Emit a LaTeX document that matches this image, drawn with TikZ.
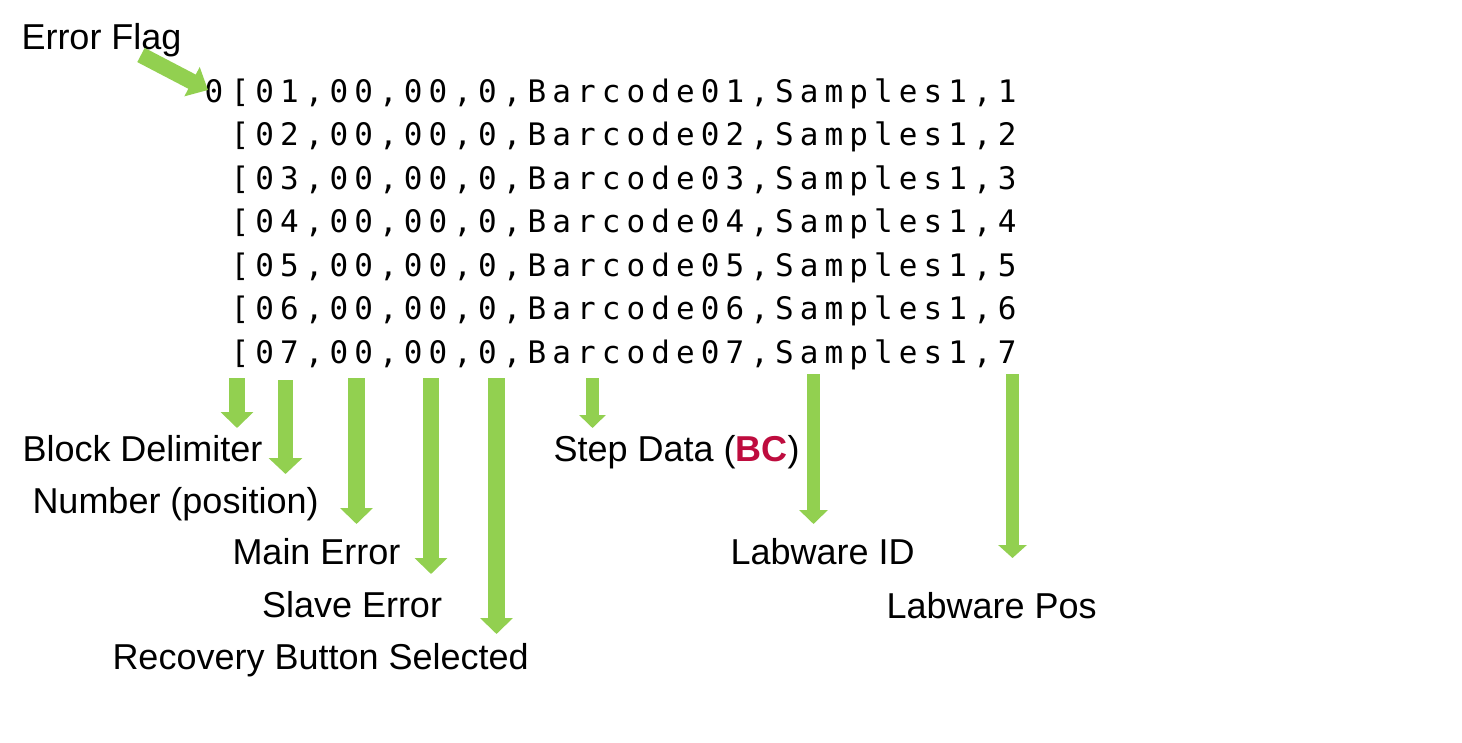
\documentclass[tikz,border=0pt]{standalone}
\usepackage{fontspec}
\setmainfont{Liberation Sans}
\newfontfamily\monofont{DejaVu Sans Mono}
\usetikzlibrary{arrows.meta}
\definecolor{arrowgreen}{RGB}{146,208,80}
\definecolor{bcred}{RGB}{190,12,62}
\makeatletter
\newcommand\mrow[1]{\@tfor\mchar:=#1\do{\makebox[24.75pt]{\mchar}}}
\makeatother
\tikzset{
  lbl/.style={inner sep=0pt, outer sep=0pt, anchor=base west, font=\fontsize{36}{36}\selectfont},
  mono/.style={inner sep=0pt, outer sep=0pt, anchor=base west, font=\monofont\fontsize{31}{31}\selectfont},
  blk/.style n args={3}{draw=arrowgreen, fill=arrowgreen, line cap=butt, line width=#1,
     -{Triangle[width=#2,length=#3]}}
}
\begin{document}
\begin{tikzpicture}[x=1pt,y=-1pt]
\fill[white] (0,0) rectangle (1462,742);
\useasboundingbox (0,0) rectangle (1462,742);

% code rows
\node[mono, anchor=base] (flag) at (214,102) {0};
\node[mono] (r1) at (227.6,102)   {\mrow{[01,00,00,0,Barcode01,Samples1,1}};
\node[mono] (r2) at (227.6,145.5) {\mrow{[02,00,00,0,Barcode02,Samples1,2}};
\node[mono] (r3) at (227.6,189)   {\mrow{[03,00,00,0,Barcode03,Samples1,3}};
\node[mono] (r4) at (227.6,232.5) {\mrow{[04,00,00,0,Barcode04,Samples1,4}};
\node[mono] (r5) at (227.6,276)   {\mrow{[05,00,00,0,Barcode05,Samples1,5}};
\node[mono] (r6) at (227.6,319.5) {\mrow{[06,00,00,0,Barcode06,Samples1,6}};
\node[mono] (r7) at (227.6,363)   {\mrow{[07,00,00,0,Barcode07,Samples1,7}};

% labels
\node[lbl] (lflag) at (21.5,49)  {Error Flag};
\node[lbl] (lblk)  at (22.5,461) {Block Delimiter};
\node[lbl] (lnum)  at (32.5,513) {Number (position)};
\node[lbl] (lmain) at (232.5,564) {Main Error};
\node[lbl] (lslv)  at (262,617)  {Slave Error};
\node[lbl] (lrec)  at (112.5,669) {Recovery Button Selected};
\node[lbl] (lstep) at (553.5,461) {Step Data ({\bfseries\color{bcred}BC})};
\node[lbl] (lid)   at (730.5,564) {Labware ID};
\node[lbl] (lpos)  at (886.5,618) {Labware Pos};

% arrow end points
\coordinate (e0s) at (141,55);   \coordinate (e0t) at (208,90);
\coordinate (a1s) at (237,378);  \coordinate (a1t) at (237,428);
\coordinate (a2s) at (285.5,380);\coordinate (a2t) at (285.5,474);
\coordinate (a3s) at (356.5,378);\coordinate (a3t) at (356.5,524);
\coordinate (a4s) at (431,378);  \coordinate (a4t) at (431,574);
\coordinate (a5s) at (496.5,378);\coordinate (a5t) at (496.5,634);
\coordinate (a6s) at (592.5,378);\coordinate (a6t) at (592.5,428);
\coordinate (a7s) at (813.5,374);\coordinate (a7t) at (813.5,524);
\coordinate (a8s) at (1012.5,374);\coordinate (a8t) at (1012.5,558);

% arrows
\draw[blk={16pt}{32pt}{18pt}] (e0s) -- (e0t);
\draw[blk={16pt}{32pt}{16pt}] (a1s) -- (a1t);
\draw[blk={15pt}{33pt}{16pt}] (a2s) -- (a2t);
\draw[blk={17pt}{32pt}{16pt}] (a3s) -- (a3t);
\draw[blk={16pt}{32pt}{16pt}] (a4s) -- (a4t);
\draw[blk={17pt}{32pt}{16pt}] (a5s) -- (a5t);
\draw[blk={13pt}{26pt}{13pt}] (a6s) -- (a6t);
\draw[blk={13pt}{28pt}{14pt}] (a7s) -- (a7t);
\draw[blk={13pt}{28pt}{13pt}] (a8s) -- (a8t);
\end{tikzpicture}
\end{document}
